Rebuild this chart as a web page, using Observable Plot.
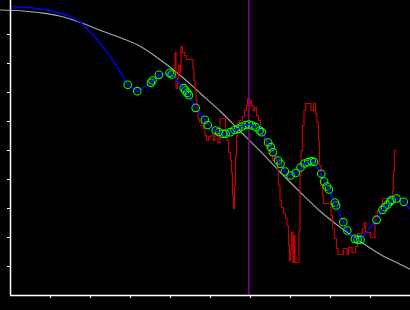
<!DOCTYPE html>
<html>
<head>
<meta charset="utf-8">
<script src="https://cdn.jsdelivr.net/npm/d3@7"></script>
<script src="https://cdn.jsdelivr.net/npm/@observablehq/plot@0.6"></script>
<style>
  html, body { margin: 0; padding: 0; background: #000; }
  #chart svg { display: block; }
</style>
</head>
<body>
<div id="chart"></div>
<script>
// ---- data ----
const xTicks = [1, 2, 3, 4, 5, 6, 7, 8, 9];
const yTicks = [1, 2, 3, 4, 5, 6, 7, 8, 9];
const xMax = 10;
const yMax = 10.172;
const markerLine = 5.96;

// smooth gray reference curve
const grayX = [-0.25, 0.25, 0.75, 1.25, 1.75, 2.25, 2.75, 3.25, 3.75, 4.25, 4.75, 5.25, 5.75, 6.25, 6.75, 7.25, 7.75, 8.25, 8.75, 9.25, 9.75, 10.0];
const grayY = [9.845, 9.817, 9.748, 9.631, 9.414, 9.138, 8.886, 8.586, 8.121, 7.586, 6.966, 6.345, 5.655, 4.966, 4.241, 3.552, 2.897, 2.345, 1.862, 1.414, 1.069, 0.897];

// blue line: leading part without markers
const blueLeadX = [0.0, 0.5, 1.0, 1.42, 1.75, 2.0, 2.25, 2.5, 2.75];
const blueLeadY = [9.966, 9.921, 9.828, 9.655, 9.424, 9.079, 8.679, 8.217, 7.7];

// blue line points with green circle markers
const markX = [2.93, 3.17, 3.51, 3.55, 3.71, 3.98, 4.03, 4.33, 4.37, 4.42, 4.46, 4.63, 4.86, 4.93, 5.13, 5.21, 5.31, 5.38, 5.5, 5.6, 5.69, 5.79, 5.88, 5.96, 6.04, 6.13, 6.23, 6.28, 6.44, 6.51, 6.56, 6.69, 6.75, 6.86, 7.0, 7.13, 7.25, 7.35, 7.44, 7.53, 7.59, 7.77, 7.84, 7.91, 7.96, 8.11, 8.14, 8.32, 8.42, 8.61, 8.68, 8.75, 9.15, 9.3, 9.36, 9.43, 9.49, 9.53, 9.65, 9.83];
const markY = [7.266, 7.045, 7.334, 7.414, 7.61, 7.679, 7.621, 7.148, 7.069, 6.99, 6.907, 6.472, 6.059, 5.879, 5.69, 5.638, 5.576, 5.576, 5.631, 5.707, 5.748, 5.828, 5.879, 5.897, 5.862, 5.803, 5.69, 5.631, 5.276, 5.114, 4.941, 4.655, 4.541, 4.276, 4.138, 4.224, 4.414, 4.552, 4.597, 4.631, 4.603, 4.197, 3.931, 3.759, 3.655, 3.207, 3.103, 2.528, 2.241, 1.955, 1.921, 1.924, 2.61, 2.955, 3.052, 3.138, 3.241, 3.293, 3.345, 3.231];

// blue line: trailing point
const blueTailX = [10.0];
const blueTailY = [2.966];

// red step series
const redX = [4.075, 4.1125, 4.1375, 4.175, 4.2, 4.2375, 4.2625, 4.3, 4.35, 4.4, 4.5625, 4.5875, 4.6125, 4.6375, 4.6625, 4.6875, 4.725, 4.775, 4.825, 4.8625, 4.9, 4.95, 5.025, 5.075, 5.1125, 5.15, 5.1875, 5.2375, 5.375, 5.4125, 5.45, 5.5, 5.525, 5.55, 5.575, 5.6, 5.625, 5.65, 5.675, 5.725, 5.8, 5.85, 5.9, 5.925, 5.9625, 5.9875, 6.025, 6.0625, 6.1, 6.15, 6.2, 6.25, 6.3, 6.35, 6.4, 6.45, 6.5, 6.55, 6.6, 6.6375, 6.675, 6.7, 6.7375, 6.775, 6.825, 6.875, 6.9125, 6.95, 6.975, 7.0, 7.025, 7.0625, 7.0875, 7.1125, 7.2125, 7.2375, 7.2625, 7.3, 7.3375, 7.375, 7.5125, 7.575, 7.625, 7.6625, 7.7, 7.725, 7.7625, 7.8, 7.825, 8.0125, 8.05, 8.1, 8.15, 8.1875, 8.325, 8.4125, 8.45, 8.5375, 8.625, 8.675, 8.8, 8.85, 8.875, 9.0, 9.1125, 9.175, 9.25, 9.3, 9.55, 9.575, 9.6, 9.65];
const redY = [7.828, 8.379, 7.138, 7.483, 7.931, 7.690, 8.586, 8.379, 8.276, 8.138, 7.828, 7.414, 7.069, 6.724, 6.379, 6.103, 5.966, 5.862, 5.759, 5.517, 5.345, 5.483, 5.517, 5.345, 5.690, 5.517, 5.276, 6.103, 5.621, 5.345, 4.931, 4.655, 4.241, 3.448, 3.0, 3.793, 4.828, 5.517, 5.966, 6.034, 6.172, 6.379, 6.552, 6.793, 6.621, 6.724, 6.552, 6.379, 6.483, 6.207, 6.034, 5.793, 5.552, 5.345, 5.172, 5.0, 4.828, 4.655, 4.862, 4.655, 4.310, 3.793, 3.276, 3.034, 2.828, 2.655, 2.414, 1.724, 1.207, 1.552, 2.172, 1.138, 2.069, 1.138, 2.241, 4.138, 5.0, 5.862, 6.379, 6.621, 6.379, 6.621, 6.276, 5.966, 5.345, 4.483, 3.793, 3.448, 3.172, 2.759, 2.310, 1.966, 1.621, 1.414, 1.621, 1.414, 1.655, 1.483, 1.690, 2.138, 2.310, 2.517, 2.172, 2.0, 2.759, 2.931, 3.069, 3.345, 3.621, 4.310, 5.0, 5.0];

// ---- build tables ----
const gray = grayX.map((x, i) => ({x, y: grayY[i]}));
const markers = markX.map((x, i) => ({x, y: markY[i]}));
const blue = [
  ...blueLeadX.map((x, i) => ({x, y: blueLeadY[i]})),
  ...markers,
  ...blueTailX.map((x, i) => ({x, y: blueTailY[i]}))
];
const red = redX.map((x, i) => ({x, y: redY[i]}));

const chart = Plot.plot({
  width: 410,
  height: 310,
  marginLeft: 10,
  marginRight: 0,
  marginTop: 0,
  marginBottom: 15,
  style: {background: "#000", color: "#fff"},
  x: {domain: [0, xMax]},
  y: {domain: [0, yMax]},
  marks: [
    Plot.line(gray, {x: "x", y: "y", stroke: "#a8a8a8", strokeWidth: 1.1, curve: "monotone-x"}),
    Plot.line(red, {x: "x", y: "y", stroke: "#c80000", strokeWidth: 1.2, curve: "step-after"}),
    Plot.ruleX([markerLine], {stroke: "#8e008e", strokeWidth: 1.5}),
    Plot.line(blue, {x: "x", y: "y", stroke: "#0000ff", strokeWidth: 1.4}),
    Plot.dot(markers, {x: "x", y: "y", r: 3.8, stroke: "#00ff00", strokeWidth: 1.1, fill: "none"}),
    Plot.dot(markers, {x: "x", y: "y", r: 0.9, fill: "#0000ff", stroke: "none"}),
    Plot.ruleX([0], {stroke: "#fff", strokeWidth: 1.5}),
    Plot.ruleY([0], {stroke: "#fff", strokeWidth: 1.5}),
    Plot.axisX({ticks: xTicks, tickSize: 3, tickFormat: () => "", stroke: "#fff", label: null}),
    Plot.axisY({ticks: yTicks, tickSize: 3, tickFormat: () => "", stroke: "#fff", label: null})
  ]
});
document.getElementById("chart").append(chart);
</script>
</body>
</html>
